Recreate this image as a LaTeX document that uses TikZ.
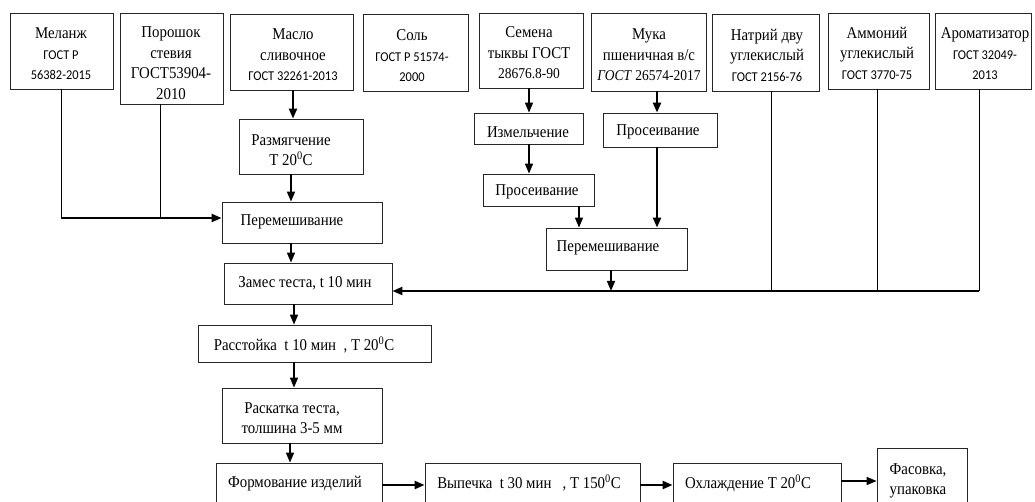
\documentclass[tikz,border=0pt]{standalone}
\usepackage{fontspec}
\setmainfont{Liberation Serif}[FakeStretch=0.9]
\newfontfamily\gostf{Carlito}[FakeStretch=0.92]
\usetikzlibrary{arrows.meta}
\newcommand\gs{\gostf\fontsize{13.5}{20}\selectfont}
\newcommand\procbox[8]{%
  \node[box, minimum width={#4-#2}, minimum height={#5-#3}] (#1) at ({(#2+#4)/2},{(#3+#5)/2}) {};
  \node[txt] (#1-t) at (#6,#7) {#8};}
\begin{document}
\begin{tikzpicture}[x=1pt,y=-1pt,
  box/.style={draw=black!85, line width=0.8pt, inner sep=0pt},
  txt/.style={inner sep=0pt, align=center, font=\fontsize{16.5}{20.5}\selectfont},
  thinl/.style={line width=0.8pt},
  medl/.style={line width=1.5pt},
  heavy/.style={line width=2.2pt},
  arr/.style={-{Triangle[length=10pt,width=8pt]}}]
\useasboundingbox (0,0) rectangle (1035,502);
% top row
\procbox{melanzh}{10}{13}{113}{89}{61}{54}{Меланж\\{\gs ГОСТ Р}\\{\gs 56382-2015}}
\procbox{poroshok}{120}{13}{223}{104}{171}{63}{Порошок\\стевия\\ГОСТ53904-\\2010}
\procbox{maslo}{230}{14}{353}{90}{293}{55}{Масло\\сливочное\\{\gs ГОСТ 32261-2013}}
\procbox{sol}{363}{14}{468}{91}{412}{56}{Соль\\{\gs ГОСТ Р 51574-}\\{\gs 2000}}
\procbox{semena}{479}{13}{583}{88}{529}{53}{Семена\\тыквы ГОСТ\\{\fontsize{15}{20.5}\selectfont 28676.8-90}}
\procbox{muka}{591}{13}{706}{91}{649}{55}{Мука\\пшеничная в/с\\{\fontsize{15}{20.5}\selectfont\textit{ГОСТ} 26574-2017}}
\procbox{natriy}{712}{14}{819}{91}{767}{55}{Натрий дву\\углекислый\\{\gs ГОСТ 2156-76}}
\procbox{ammoniy}{828}{13}{929}{89}{877}{53}{Аммоний\\углекислый\\{\gs ГОСТ 3770-75}}
\procbox{aromat}{935}{13}{1031}{89}{985}{54}{Ароматизатор\\{\gs ГОСТ 32049-}\\{\gs 2013}}
% middle
\procbox{razm}{239}{119}{363}{174}{291}{150}{Размягчение\\T 20\textsuperscript{0}C}
\procbox{perem1}{222}{202}{382}{243}{292}{222}{Перемешивание}
\procbox{zames}{224}{263}{392}{304}{305}{283}{Замес теста, t 10 мин}
\procbox{izm}{474}{113}{583}{144}{528}{132}{Измельчение}
\procbox{pros1}{603}{113}{717}{147}{658}{132}{Просеивание}
\procbox{pros2}{483}{174}{594}{206}{537}{192}{Просеивание}
\procbox{perem2}{546}{228}{687}{270}{608}{248}{Перемешивание}
% lower column
\procbox{rasst}{198}{325}{431}{362}{304}{345}{Расстойка\ \ t 10 мин\ \ , T 20\textsuperscript{0}C}
\procbox{raskat}{222}{388}{382}{443}{292}{418}{Раскатка теста,\\толшина 3-5 мм}
\procbox{form}{216}{463}{382}{507}{295}{484}{Формование изделий}
\procbox{vyp}{425}{463}{640}{507}{529}{483}{Выпечка\ \ t 30 мин\ \ \ , T 150\textsuperscript{0}C}
\procbox{ohl}{673}{463}{841}{507}{748}{483}{Охлаждение T 20\textsuperscript{0}C}
\node[box, minimum width=90, minimum height=66] (fas) at (922,481) {};
\node[txt, align=left] (fas-t) at (918,481) {Фасовка,\\упаковка};
% left feeds
\coordinate (j1) at (61,218);
\coordinate (j2) at (160,218);
\draw[thinl] (j1 |- melanzh.south) -- (j1);
\draw[thinl] (j2 |- poroshok.south) -- (j2);
\draw[heavy,arr] (j1) -- (j1 -| perem1.west);
\coordinate (xm) at (293,0);
\coordinate (xr) at (291,0);
\draw[heavy,arr] (xm |- maslo.south) -- (xm |- razm.north);
\draw[medl,arr] (xr |- razm.south) -- (xr |- perem1.north);
\draw[medl,arr] (xr |- perem1.south) -- (xr |- zames.north);
% seeds and flour
\coordinate (xs) at (529,0);
\coordinate (xf) at (657,0);
\coordinate (xp) at (579,0);
\draw[medl,arr] (xs |- semena.south) -- (xs |- izm.north);
\draw[medl,arr] (xs |- izm.south) -- (xs |- pros2.north);
\draw[heavy,arr] (xf |- muka.south) -- (xf |- pros1.north);
\draw[heavy,arr] (xf |- pros1.south) -- (xf |- perem2.north);
\draw[medl,arr] (xp |- pros2.south) -- (xp |- perem2.north);
% right feeds and main line
\coordinate (jn) at (771,291);
\coordinate (jam) at (877,291);
\coordinate (ja) at (979,291);
\coordinate (jp) at (611,291);
\draw[thinl] (jn |- natriy.south) -- (jn);
\draw[thinl] (jam |- ammoniy.south) -- (jam);
\draw[thinl] (ja |- aromat.south) -- (ja);
\draw[medl,arr] (jp |- perem2.south) -- (jp);
\draw[heavy,arr] (ja) -- (ja -| zames.east);
% lower chain
\coordinate (xz) at (294,0);
\coordinate (xk) at (290,0);
\draw[medl,arr] (xz |- zames.south) -- (xz |- rasst.north);
\draw[medl,arr] (xz |- rasst.south) -- (xz |- raskat.north);
\draw[medl,arr] (xk |- raskat.south) -- (xk |- form.north);
\draw[heavy,arr] (form.east) -- (vyp.west);
\draw[heavy,arr] (vyp.east) -- (ohl.west);
\draw[medl,arr] (ohl.east |- fas.west) -- (fas.west);
\end{tikzpicture}
\end{document}
